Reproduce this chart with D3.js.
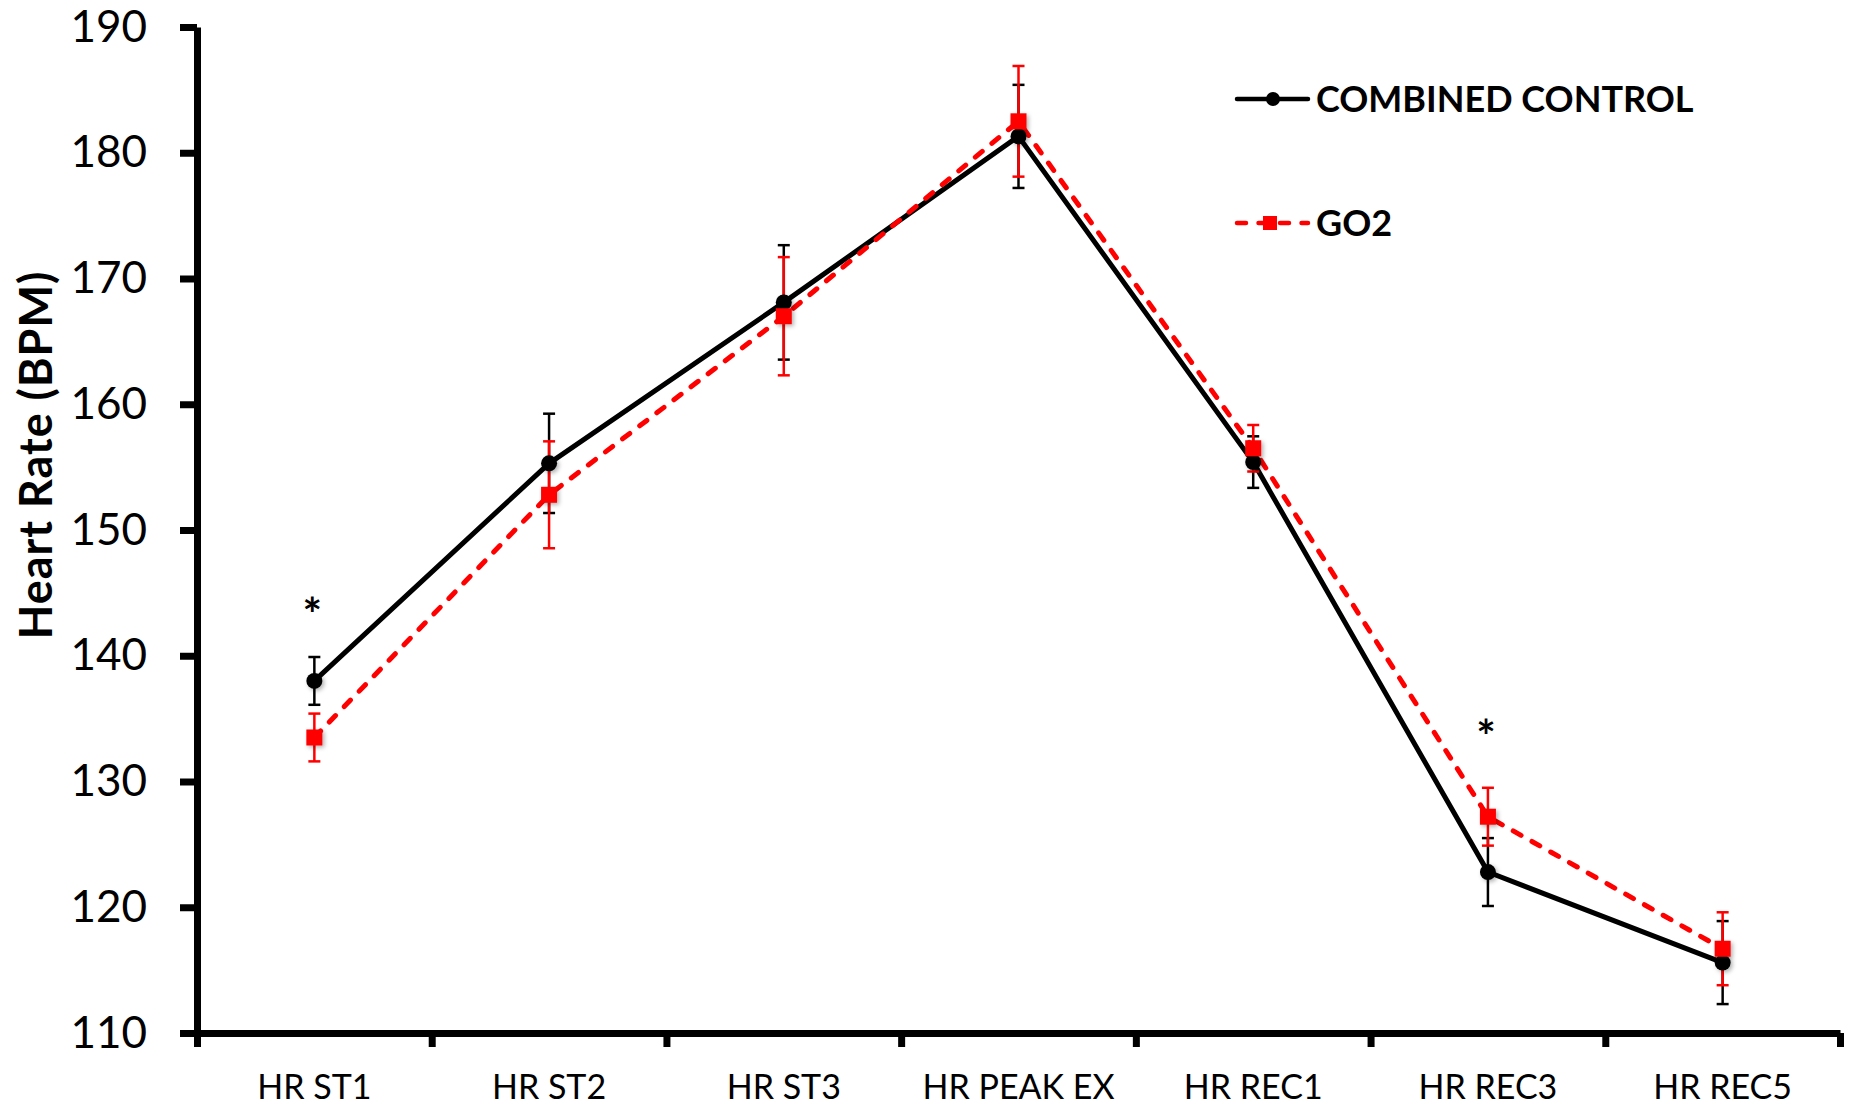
<!DOCTYPE html>
<html>
<head>
<meta charset="utf-8">
<script src="https://cdn.jsdelivr.net/npm/d3@7"></script>
<style>
  body { margin: 0; background: #fff; }
  svg { display: block; font-family: Lato, "Open Sans", sans-serif; }
  .axis { font-family: Lato, "Open Sans", sans-serif; }
  .axis .domain { stroke: #000; stroke-width: 7; }
  .axis .tick line { stroke: #000; stroke-width: 7; }
  .axis .tick text { fill: #000; }
</style>
</head>
<body>
<svg id="chart" width="1850" height="1108"></svg>
<script>
const categories = ['HR ST1', 'HR ST2', 'HR ST3', 'HR PEAK EX', 'HR REC1', 'HR REC3', 'HR REC5'];
const control = [138.0, 155.3, 168.1, 181.3, 155.4, 122.8, 115.6];
const controlErr = [1.9, 3.95, 4.55, 4.1, 2.05, 2.7, 3.3];
const go2 = [133.5, 152.8, 167.0, 182.5, 156.5, 127.2, 116.7];
const go2Err = [1.9, 4.25, 4.7, 4.4, 1.85, 2.3, 2.9];
const yTicks = [110, 120, 130, 140, 150, 160, 170, 180, 190];
const stars = [{cat: 'HR ST1', y: 144.0}, {cat: 'HR REC3', y: 134.3}];
const legendNames = ['COMBINED CONTROL', 'GO2'];

const svg = d3.select('#chart');
const plotLeft = 197, plotRight = 1840, plotTop = 27, plotBottom = 1033;

let x = d3.scaleBand().domain(categories).range([plotLeft, plotRight]).padding(0);
let xEdge = d3.scaleLinear().domain([0, categories.length]).range([plotLeft, plotRight]);
let y = d3.scaleLinear().domain([110, 190]).range([plotBottom, plotTop]);

// drop shadow for markers
const defs = svg.append('defs');
defs.append('filter').attr('id', 'shadow')
  .attr('x', '-50%').attr('y', '-50%').attr('width', '200%').attr('height', '200%')
  .append('feDropShadow')
  .attr('dx', 2).attr('dy', 2).attr('stdDeviation', 2)
  .attr('flood-color', '#000').attr('flood-opacity', 0.3);

// axes
svg.append('g')
  .attr('class', 'axis axis--y')
  .attr('transform', `translate(${plotLeft}, 0)`)
  .call(d3.axisLeft(y).tickValues(yTicks).tickSize(17).tickSizeOuter(0).tickPadding(33))
  .call(g => g.attr('font-family', null))
  .call(g => g.selectAll('.tick text').style('font-size', '44px'));

svg.append('g')
  .attr('class', 'axis axis--x')
  .attr('transform', `translate(0, ${plotBottom})`)
  .call(d3.axisBottom(xEdge).ticks(categories.length).tickSize(14).tickSizeOuter(0).tickFormat(''));

svg.append('g')
  .attr('class', 'axis axis--xl')
  .attr('transform', `translate(0, ${plotBottom})`)
  .call(d3.axisBottom(x).tickSize(0).tickPadding(42))
  .call(g => g.attr('font-family', null))
  .call(g => g.select('.domain').remove())
  .call(g => g.selectAll('.tick text').style('font-size', '34px'));

// y title
svg.append('text')
  .attr('transform', 'translate(52, 455) rotate(-90)')
  .attr('text-anchor', 'middle')
  .style('font-size', '45px')
  .style('font-weight', 'bold')
  .style('letter-spacing', '1px')
  .text('Heart Rate (BPM)');

const series = [
  {vals: control, err: controlErr, color: '#000', dash: null},
  {vals: go2, err: go2Err, color: '#ff0000', dash: '9,12.5'}
];

let line = d3.line().x((d, i) => x(categories[i]) + x.bandwidth() / 2).y(d => y(d));

series.forEach(s => {
  svg.append('path')
    .datum(s.vals)
    .attr('fill', 'none')
    .attr('stroke', s.color)
    .attr('stroke-width', 5)
    .attr('stroke-linecap', s.dash ? 'round' : 'butt')
    .attr('stroke-linejoin', 'round')
    .attr('stroke-dasharray', s.dash)
    .attr('d', line);
});

// error bars
series.forEach(s => {
  let g = svg.append('g').attr('stroke', s.color).attr('stroke-width', 2.5);
  s.vals.forEach((v, i) => {
    const cx = x(categories[i]) + x.bandwidth() / 2;
    const y1 = y(v + s.err[i]), y2 = y(v - s.err[i]);
    g.append('line').attr('x1', cx).attr('x2', cx).attr('y1', y1).attr('y2', y2);
    g.append('line').attr('x1', cx - 6).attr('x2', cx + 6).attr('y1', y1).attr('y2', y1);
    g.append('line').attr('x1', cx - 6).attr('x2', cx + 6).attr('y1', y2).attr('y2', y2);
  });
});

// markers
svg.append('g').selectAll('circle')
  .data(control)
  .join('circle')
  .attr('cx', (d, i) => x(categories[i]) + x.bandwidth() / 2)
  .attr('cy', d => y(d))
  .attr('r', 8)
  .attr('fill', '#000')
  .attr('filter', 'url(#shadow)');

svg.append('g').selectAll('rect')
  .data(go2)
  .join('rect')
  .attr('x', (d, i) => x(categories[i]) + x.bandwidth() / 2 - 8)
  .attr('y', d => y(d) - 8)
  .attr('width', 16).attr('height', 16)
  .attr('fill', '#ff0000')
  .attr('filter', 'url(#shadow)');

// significance marks
svg.append('g').selectAll('text')
  .data(stars)
  .join('text')
  .attr('x', d => x(d.cat) + x.bandwidth() / 2 - 2)
  .attr('y', d => y(d.y) + 26)
  .attr('text-anchor', 'middle')
  .style('font-size', '46px')
  .style('font-weight', 'bold')
  .text('*');

// legend
const legend = svg.append('g').attr('transform', 'translate(1237, 0)');
const legendY = [99, 223];
series.forEach((s, i) => {
  const ly = legendY[i];
  legend.append('line')
    .attr('x1', 0).attr('x2', 71).attr('y1', ly).attr('y2', ly)
    .attr('stroke', s.color).attr('stroke-width', 4.5)
    .attr('stroke-linecap', 'round')
    .attr('stroke-dasharray', s.dash);
  if (i === 0) {
    legend.append('circle').attr('cx', 36).attr('cy', ly).attr('r', 7).attr('fill', s.color);
  } else {
    legend.append('rect').attr('x', 26).attr('y', ly - 7).attr('width', 14).attr('height', 14).attr('fill', s.color);
  }
  legend.append('text')
    .attr('x', 79).attr('y', ly + 13)
    .style('font-size', '36px')
    .style('font-weight', 'bold')
    .text(legendNames[i]);
});
</script>
</body>
</html>
